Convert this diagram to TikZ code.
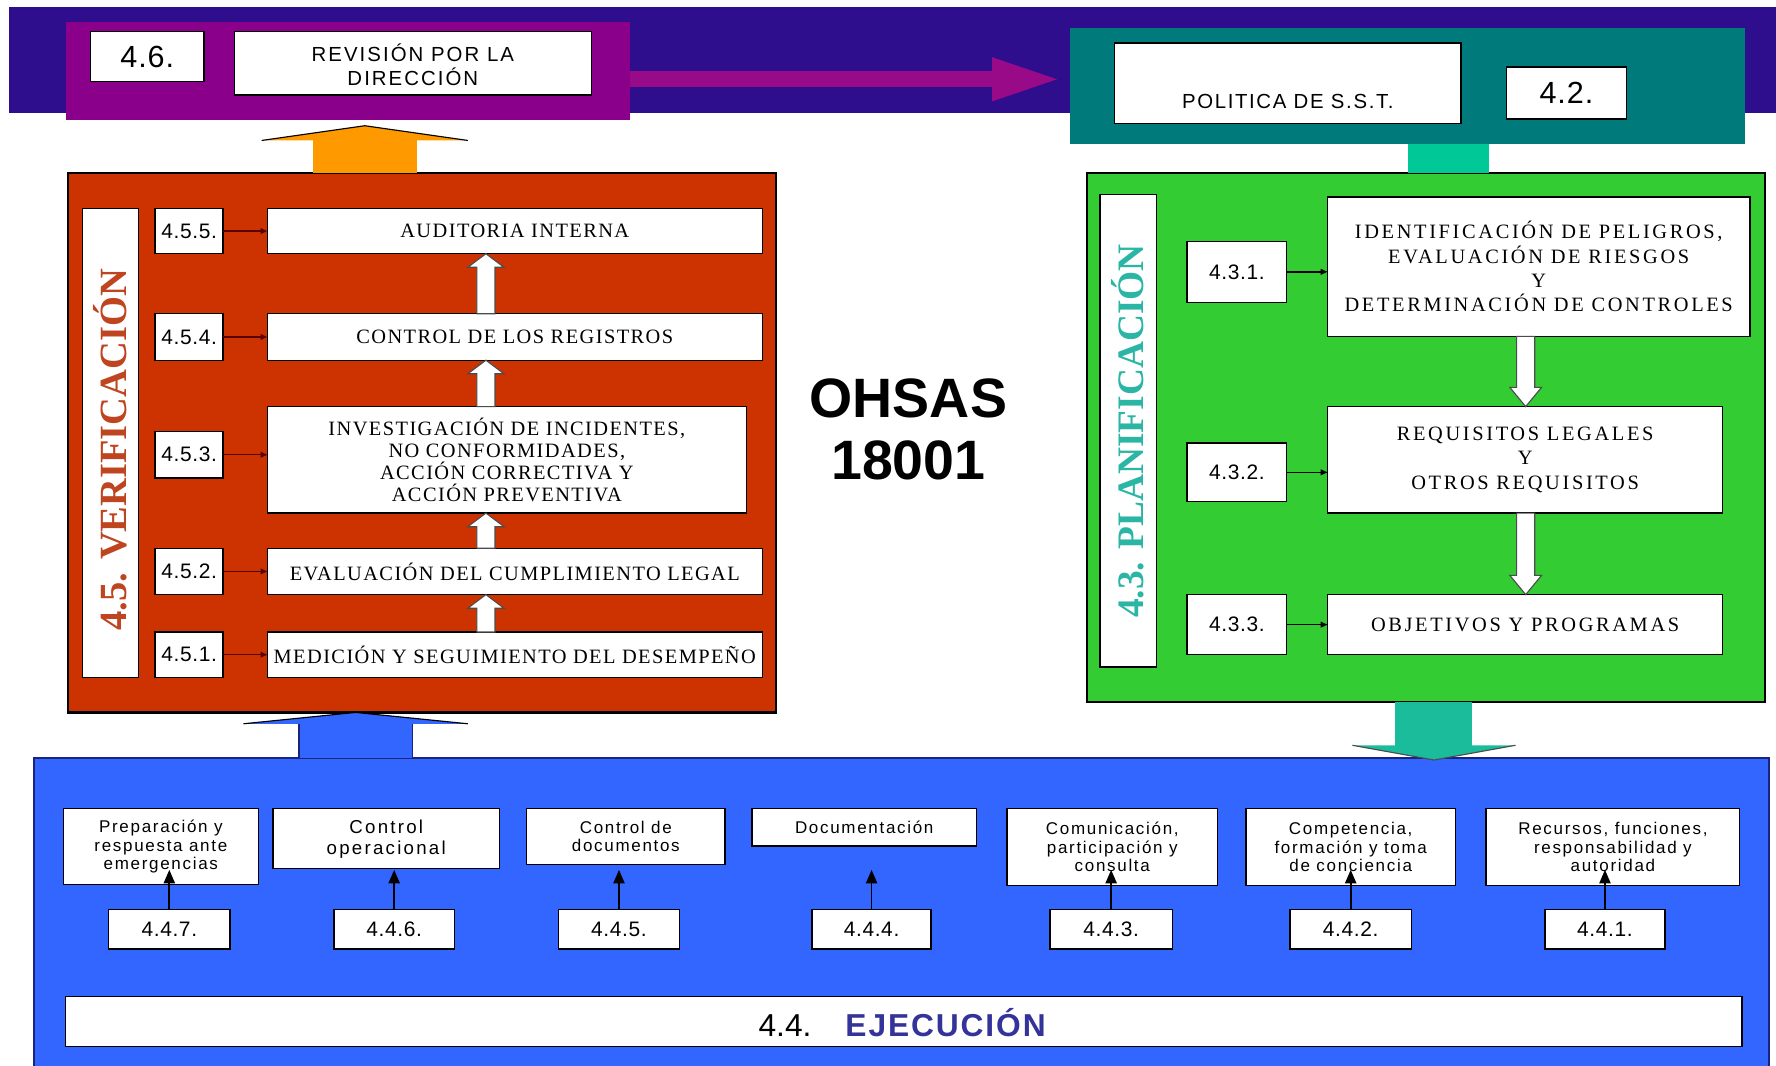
\documentclass[tikz,border=0pt]{standalone}
\usepackage{fontspec}
\setmainfont{Liberation Sans}
\newfontfamily\fnSans{Liberation Sans}
\newfontfamily\fnBig{Liberation Sans}[LetterSpace=3]
\newfontfamily\fnNum{Liberation Sans}[LetterSpace=3]
\newfontfamily\fnRev{Liberation Sans}[LetterSpace=10]
\newfontfamily\fnPol{Liberation Sans}[LetterSpace=8]
\newfontfamily\fnBot{Liberation Sans}[LetterSpace=10]
\newfontfamily\fnOp{Liberation Sans}[LetterSpace=12]
\newfontfamily\fnEje{Liberation Sans}[LetterSpace=6]
\newfontfamily\fnSerR{Liberation Serif}[LetterSpace=7]
\newfontfamily\fnSerG{Liberation Serif}[LetterSpace=13]
\newfontfamily\fnSerB{Liberation Serif}
\usetikzlibrary{arrows.meta,calc}

\definecolor{bandC}{HTML}{2E0E8C}
\definecolor{purC}{HTML}{8B008B}
\definecolor{magC}{HTML}{990A88}
\definecolor{tealC}{HTML}{007A7A}
\definecolor{seaC}{HTML}{00C896}
\definecolor{orC}{HTML}{FF9900}
\definecolor{redC}{HTML}{CC3300}
\definecolor{grnC}{HTML}{33CC33}
\definecolor{bluC}{HTML}{3366FF}
\definecolor{tarC}{HTML}{1ABC9C}
\definecolor{verC}{HTML}{BF4520}
\definecolor{plaC}{HTML}{2AB5A5}
\definecolor{ejeC}{HTML}{333399}
\definecolor{navC}{HTML}{1A237E}

\newcommand{\mybox}[7]{\node[#6, minimum width={(#4-#2)*1pt}, minimum height={(#5-#3)*1pt}] (#1) at ({(#2+#4)/2},{(#3+#5)/2}) {#7};}

\tikzset{
  base/.style={rectangle, inner sep=0pt, outer sep=0pt, align=center},
  wbox/.style={base, fill=white, draw=black, line width=1.2pt},
  bignum/.style={wbox, font=\fnBig\fontsize{27}{29}\selectfont},
  numbox/.style={wbox, font=\fnNum\fontsize{18.5}{20}\selectfont},
  redtxt/.style={wbox, font=\fnSerR\fontsize{18}{19.5}\selectfont},
  grntxt/.style={wbox, font=\fnSerG\fontsize{18}{21.5}\selectfont},
  bottxt/.style={wbox, font=\fnBot\fontsize{15}{16.3}\selectfont},
  vlabel/.style={base, rotate=90, font=\fnSerB\bfseries\fontsize{33}{36}\selectfont},
  redconn/.style={draw=red!35!black, line width=1.3pt, -{Triangle[length=6pt,width=5pt]}},
  blkconn/.style={draw=black, line width=1.3pt, -{Triangle[length=6pt,width=5pt]}},
  botconn/.style={draw=black, line width=1.5pt, -{Triangle[length=12pt,width=10pt]}},
  hollow/.style={fill=white, draw=black!70, line width=1pt}
}

\newcommand{\hup}[3]{\draw[hollow] ($(#1 |- #2.north)+(-8,0)$) -- ($(#1 |- #3.south)+(-8,12)$) -- ($(#1 |- #3.south)+(-16,12)$) -- (#1 |- #3.south) -- ($(#1 |- #3.south)+(16,12)$) -- ($(#1 |- #3.south)+(8,12)$) -- ($(#1 |- #2.north)+(8,0)$) -- cycle;}
\newcommand{\hdown}[3]{\draw[hollow] ($(#1 |- #2.south)+(-8,0)$) -- ($(#1 |- #3.north)+(-8,-17)$) -- ($(#1 |- #3.north)+(-14,-17)$) -- (#1 |- #3.north) -- ($(#1 |- #3.north)+(14,-17)$) -- ($(#1 |- #3.north)+(8,-17)$) -- ($(#1 |- #2.south)+(8,0)$) -- cycle;}

\begin{document}
\begin{tikzpicture}[x=1pt, y=-1pt]
\useasboundingbox (0,0) rectangle (1568,941);
\fill[white] (0,0) rectangle (1568,941);

% top band
\fill[bandC] (8,6) rectangle (1568,100);

% 4.6 box
\mybox{pur}{58}{19}{556}{106}{base, fill=purC}{}
\mybox{n46}{80}{28}{180}{72}{bignum}{4.6.}
\mybox{rev}{207}{28}{522}{84}{wbox}{}
\node[base, font=\fnRev\fontsize{18}{21}\selectfont] (revt) at (364.5,57) {REVISIÓN POR LA\\DIRECCIÓN};

% 4.2 box
\mybox{tea}{945}{25}{1541}{127}{base, fill=tealC}{}
\mybox{pol}{984}{38}{1290}{109}{wbox}{}
\node[base, font=\fnPol\fontsize{18}{20}\selectfont] (polt) at (1137,90) {POLITICA DE S.S.T.};
\mybox{n42}{1330}{59}{1436}{105}{bignum}{4.2.}

% connector teal -> green
\coordinate (sx) at (1279,0);

% blue box 4.4
\mybox{blu}{30}{669}{1562}{950}{base, fill=bluC, draw=navC, line width=1.5pt}{}
\mybox{prep}{56}{714}{228}{781}{bottxt}{Preparación y\\respuesta ante\\emergencias}
\mybox{cop}{241}{714}{441}{767}{wbox, font=\fnOp\fontsize{16.5}{18.5}\selectfont}{Control\\operacional}
\mybox{cdoc}{465}{714}{640}{763}{bottxt}{Control de\\documentos}
\mybox{doc}{664}{714}{862}{747}{bottxt}{Documentación}
\mybox{com}{889}{714}{1075}{782}{bottxt}{Comunicación,\\participación y\\consulta}
\mybox{comp}{1100}{714}{1285}{782}{bottxt}{Competencia,\\formación y toma\\de conciencia}
\mybox{rec}{1312}{714}{1536}{782}{bottxt}{Recursos, funciones,\\responsabilidad y\\autoridad}
\mybox{n447}{96}{803}{203}{838}{numbox}{4.4.7.}
\mybox{n446}{295}{803}{401}{838}{numbox}{4.4.6.}
\mybox{n445}{493}{803}{600}{838}{numbox}{4.4.5.}
\mybox{n444}{717}{803}{822}{838}{numbox}{4.4.4.}
\mybox{n443}{927}{803}{1035}{838}{numbox}{4.4.3.}
\mybox{n442}{1139}{803}{1246}{838}{numbox}{4.4.2.}
\mybox{n441}{1364}{803}{1470}{838}{numbox}{4.4.1.}
\foreach \n in {n447,n446,n445,n444,n443,n442,n441}
  \draw[botconn] (\n.north) -- ++(0,-35);
\mybox{eje}{58}{880}{1538}{924}{wbox}{}
\node[base, font=\fontsize{28}{30}\selectfont] (ejet) at (796.5,903) {{\fnSans 4.4.}\hspace{30pt}{\fnEje\bfseries\color{ejeC}EJECUCIÓN}};

% red box 4.5
\mybox{red}{60}{153}{685}{629}{base, fill=redC, draw=black, line width=2pt}{}
\mybox{vver}{73}{184}{122}{598}{wbox}{}
\node[vlabel, text=verC, font=\fnSerB\bfseries\fontsize{34}{36}\selectfont] (vvert) at ($(vver.center)+(0,6)$) {4.5. VERIFICACIÓN};
\mybox{n455}{137}{184}{197}{224}{numbox}{4.5.5.}
\mybox{n454}{137}{277}{197}{318}{numbox}{4.5.4.}
\mybox{n453}{137}{381}{197}{422}{numbox}{4.5.3.}
\mybox{n452}{137}{484}{197}{525}{numbox}{4.5.2.}
\mybox{n451}{137}{558}{197}{598}{numbox}{4.5.1.}
\mybox{aud}{236}{184}{673}{224}{redtxt}{AUDITORIA INTERNA}
\mybox{ctl}{236}{277}{673}{318}{redtxt}{CONTROL DE LOS REGISTROS}
\mybox{inv}{236}{359}{659}{453}{redtxt}{INVESTIGACIÓN DE INCIDENTES,\\NO CONFORMIDADES,\\ACCIÓN CORRECTIVA Y\\ACCIÓN PREVENTIVA}
\mybox{evl}{236}{484}{673}{525}{redtxt}{EVALUACIÓN DEL CUMPLIMIENTO LEGAL}
\mybox{med}{236}{558}{673}{598}{redtxt}{MEDICIÓN Y SEGUIMIENTO DEL DESEMPEÑO}
\draw[redconn] (n455.east) -- (n455.east -| aud.west);
\draw[redconn] (n454.east) -- (n454.east -| ctl.west);
\draw[redconn] (n453.east) -- (n453.east -| inv.west);
\draw[redconn] (n452.east) -- (n452.east -| evl.west);
\draw[redconn] (n451.east) -- (n451.east -| med.west);
\coordinate (rx) at (429,0);
\hup{rx}{med}{evl}
\hup{rx}{evl}{inv}
\hup{rx}{inv}{ctl}
\hup{rx}{ctl}{aud}

% OHSAS
\node[base, anchor=base, font=\fnSans\bfseries\fontsize{49}{54}\selectfont] (oh1) at (802,369) {OHSAS};
\node[base, anchor=base, font=\fnSans\bfseries\fontsize{49}{54}\selectfont] (oh2) at (802,423) {18001};

% green box 4.3
\mybox{grn}{960}{153}{1558}{620}{base, fill=grnC, draw=black, line width=2pt}{}
\mybox{vpla}{971}{172}{1021}{589}{wbox}{}
\node[vlabel, text=plaC] (vplat) at (vpla.center) {4.3. PLANIFICACIÓN};
\mybox{n431}{1048}{213}{1136}{267}{numbox}{4.3.1.}
\mybox{n432}{1048}{391}{1136}{443}{numbox}{4.3.2.}
\mybox{n433}{1048}{525}{1136}{578}{numbox}{4.3.3.}
\mybox{ide}{1172}{174}{1545}{297}{grntxt}{IDENTIFICACIÓN DE PELIGROS,\\EVALUACIÓN DE RIESGOS\\Y\\DETERMINACIÓN DE CONTROLES}
\mybox{req}{1172}{359}{1521}{453}{grntxt}{REQUISITOS LEGALES\\Y\\OTROS REQUISITOS}
\mybox{obj}{1172}{525}{1521}{578}{grntxt}{OBJETIVOS Y PROGRAMAS}
\draw[blkconn] (n431.east) -- (n431.east -| ide.west);
\draw[blkconn] (n432.east) -- (n432.east -| req.west);
\draw[blkconn] (n433.east) -- (n433.east -| obj.west);
\coordinate (gx) at (1347,0);
\hdown{gx}{ide}{req}
\hdown{gx}{req}{obj}

% sea green connector
\fill[seaC] ($(sx |- tea.south)+(-36,0)$) rectangle ($(sx |- grn.north)+(36,0)$);

% magenta arrow 4.6 -> 4.2
\coordinate (mA) at (0,70);
\draw[magC, line width=14pt, -{Triangle[length=62pt,width=34pt]}] (pur.east |- mA) -- ($(tea.west |- mA)+(-7,0)$);

% orange arrow (4.5 -> 4.6)
\coordinate (ox) at (322,0);
\fill[orC] ($(ox |- red.north)+(-46,0)$) rectangle ($(ox |- red.north)+(46,-30)$);
\fill[orC] ($(ox |- red.north)+(-91,-29)$) -- ($(ox |- red.north)+(0,-42)$) -- ($(ox |- red.north)+(91,-29)$) -- cycle;
\draw[black, line width=1pt] ($(ox |- red.north)+(-91,-29)$) -- ($(ox |- red.north)+(0,-42)$) -- ($(ox |- red.north)+(91,-29)$);

% blue arrow (4.4 -> 4.5)
\coordinate (bx) at (314,0);
\fill[bluC] ($(bx |- blu.north)+(-50,0)$) rectangle ($(bx |- blu.north)+(50,-31)$);
\draw[navC, line width=1pt] ($(bx |- blu.north)+(-50,0)$) -- ($(bx |- blu.north)+(-50,-30)$) ($(bx |- blu.north)+(50,0)$) -- ($(bx |- blu.north)+(50,-30)$);
\fill[bluC] ($(bx |- blu.north)+(-99,-30)$) -- (bx |- red.south) -- ($(bx |- blu.north)+(99,-30)$) -- cycle;
\draw[black, line width=1pt] ($(bx |- blu.north)+(-99,-30)$) -- (bx |- red.south) -- ($(bx |- blu.north)+(99,-30)$);

% teal arrow (4.3 -> 4.4)
\coordinate (tx) at (1266,0);
\fill[tarC] ($(tx |- grn.south)+(-34,0)$) rectangle ($(tx |- blu.north)+(34,-10)$);
\fill[tarC] ($(tx |- blu.north)+(-72,-11)$) -- ($(tx |- blu.north)+(0,2)$) -- ($(tx |- blu.north)+(72,-11)$) -- cycle;
\draw[black!70, line width=1pt] ($(tx |- blu.north)+(-72,-11)$) -- ($(tx |- blu.north)+(0,2)$) -- ($(tx |- blu.north)+(72,-11)$);
\end{tikzpicture}
\end{document}
